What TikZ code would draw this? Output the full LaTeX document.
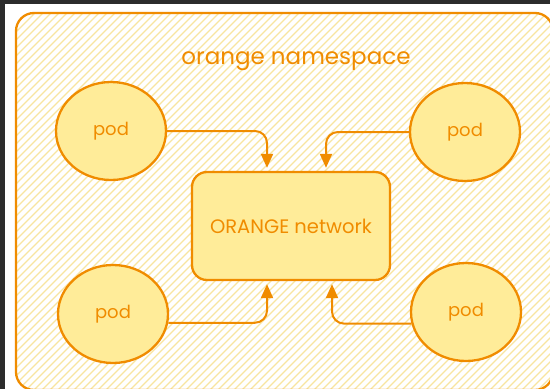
\documentclass[tikz,border=0pt]{standalone}
\usepackage{fontspec}
\setmainfont{Poppins}
\usetikzlibrary{shapes.geometric,arrows.meta}
\definecolor{ostroke}{HTML}{F08C00}
\definecolor{ofill}{HTML}{FFEC99}
\definecolor{hatch}{HTML}{F8E5A0}
\definecolor{darkbg}{HTML}{2C2C2C}
\tikzset{
  pod/.style={ellipse, draw=ostroke, fill=ofill, line width=2.3pt, minimum width=110pt, minimum height=98pt, inner sep=0pt, text=ostroke, font=\fontsize{18}{18}\selectfont},
  netbox/.style={rectangle, rounded corners=15pt, draw=ostroke, fill=ofill, line width=2.3pt, minimum width=198pt, minimum height=108pt, text=ostroke, font=\fontsize{19.5}{19.5}\selectfont},
  title/.style={text=ostroke, font=\fontsize{23}{23}\selectfont},
  arr/.style={draw=ostroke, line width=2pt, rounded corners=12pt, -{Triangle[length=14pt,width=12pt]}, shorten >=3pt},
}
\begin{document}
\begin{tikzpicture}[x=1pt,y=-1pt]
\useasboundingbox (0,0) rectangle (550,389);
\fill[white] (0,0) rectangle (550,389);
\fill[darkbg] (0,0) rectangle (550,4);
\fill[darkbg] (0,0) rectangle (5,389);
\begin{scope}
  \clip[rounded corners=18pt] (16,13) rectangle (553,390);
  \foreach \k in {-400,-392,...,560} {
    \draw[hatch, line width=1.2pt] (\k,400) -- (\k+400,0);
  }
\end{scope}
\draw[ostroke, line width=2.3pt, rounded corners=18pt] (16,13) rectangle (553,390);
\node[title] (ttl) at (296,61) {orange namespace};
\node[netbox] (net) at (291,226) {ORANGE network};
\node[pod] (tl) at (111,131) {pod};
\node[pod] (tr) at (465,132) {pod};
\node[pod] (bl) at (113,314) {pod};
\node[pod] (br) at (466,312) {pod};
\draw[arr] (tl.east) -| ([xshift=-24pt]net.north);
\draw[arr] (tr.west) -| ([xshift=35pt]net.north);
\draw[arr] (bl.-9) -| ([xshift=-24pt]net.south);
\draw[arr] (br.192) -| ([xshift=41pt]net.south);
\end{tikzpicture}
\end{document}
